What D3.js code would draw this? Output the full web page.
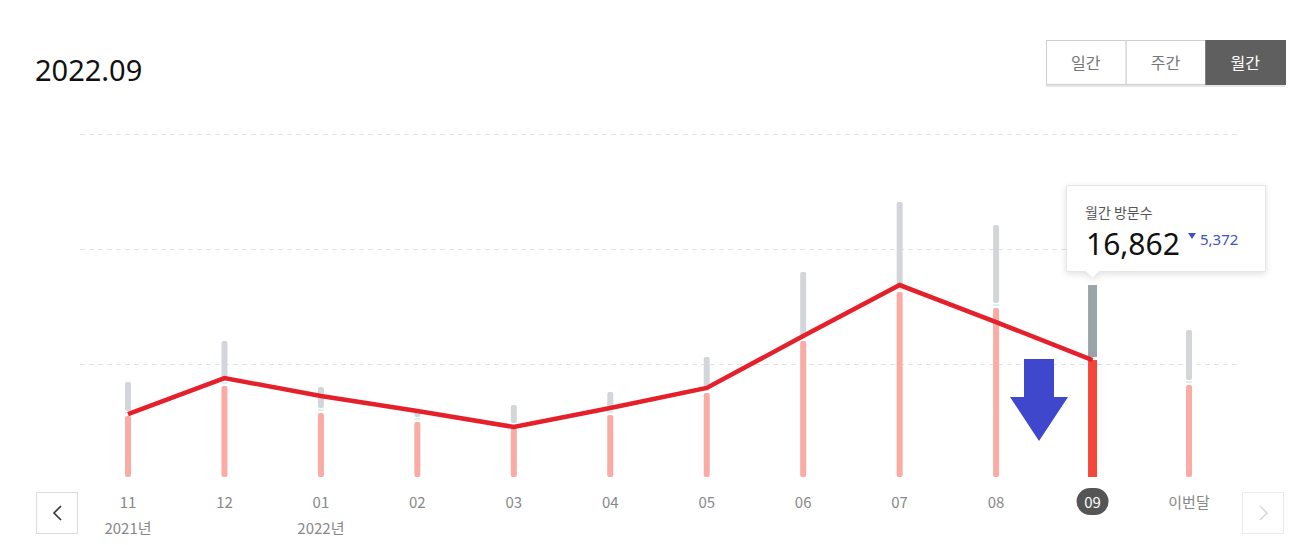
<!DOCTYPE html>
<html><head><meta charset="utf-8">
<script src="https://cdn.jsdelivr.net/npm/d3@7"></script>
<style>
html,body{margin:0;padding:0;background:#fff;}
svg{display:block;font-family:"Noto Sans CJK KR","Noto Sans",sans-serif;}
</style></head>
<body><svg id="c" width="1303" height="545"></svg>
<script>
const months = ["11","12","01","02","03","04","05","06","07","08","09","이번달"];
const yearLabels = [{m:"11", t:"2021년"}, {m:"01", t:"2022년"}];
const totalValues = [13750, 19550, 13040, 9920, 10490, 12330, 17290, 29330, 39250, 35990, 27490, 21110];
const partValues  = [8930, 13180, 9350, 8080, 7230, 9070, 12190, 19550, 26500, 24230, 16862, 13320];
const lineValues  = [9210, 14310, 11760, 9640, 7370, 10060, 12900, 20260, 27490, 22234, 16862];
const gridValues  = [16300, 32600, 48900];
const selected = "09";
const tipLabel = "월간 방문수", tipValue = 16862, tipDelta = 5372;
const tabs = ["일간","주간","월간"];
const activeTab = "월간";
const title = "2022.09";

const svg = d3.select("#c");
const x = d3.scalePoint().domain(months).range([128, 1189]);
const y = d3.scaleLinear().domain([0, 48900]).range([479, 134]);

// title
svg.append("text").attr("x",35).attr("y",81).attr("font-size",29).attr("fill","#111").attr("font-family","'Noto Sans','Open Sans',sans-serif").text(title);

// tabs
const tabX = d3.scaleBand().domain(tabs).range([1046,1285]);
svg.append("rect").attr("x",1046).attr("y",42).attr("width",239).attr("height",45).attr("fill","#e6e6e6");
tabs.forEach(t=>{
  const on = t===activeTab;
  svg.append("rect").attr("x",tabX(t)+0.5).attr("y",40.5).attr("width",tabX.bandwidth()).attr("height",44)
    .attr("fill",on?"#5f5f5f":"#fff").attr("stroke",on?"#5f5f5f":"#cfcfcf");
  svg.append("text").attr("x",tabX(t)+tabX.bandwidth()/2).attr("y",69).attr("text-anchor","middle")
    .attr("font-size",16).attr("fill",on?"#fff":"#777").text(t);
});

// grid
svg.selectAll(".grid").data(gridValues).enter().append("line")
  .attr("x1",80).attr("x2",1237).attr("y1",d=>Math.round(y(d))+0.5).attr("y2",d=>Math.round(y(d))+0.5)
  .attr("stroke","#e2e2e2").attr("stroke-dasharray","5,4");

// bars
const gap = 5;
months.forEach((m,i)=>{
  const sel = m===selected;
  const cx = x(m);
  const w = sel?9:6;
  const tTop = y(totalValues[i]);
  const pTop = y(partValues[i]);
  if(sel){
    svg.append("rect").attr("x",cx-w/2).attr("y",tTop).attr("width",w).attr("height",pTop-3-tTop).attr("fill","#9aa3ab");
    svg.append("rect").attr("x",cx-w/2).attr("y",pTop).attr("width",w).attr("height",y(0)-2-pTop).attr("fill","#f4473b");
  } else {
    svg.append("rect").attr("x",cx-w/2).attr("y",tTop).attr("width",w).attr("height",Math.max(2,pTop-gap-tTop)).attr("rx",2).attr("fill","#d2d6da");
    svg.append("line").attr("x1",cx-w/2).attr("x2",cx+w/2).attr("y1",pTop-gap+2).attr("y2",pTop-gap+2).attr("stroke","#b9e3dc").attr("stroke-width",1);
    svg.append("rect").attr("x",cx-w/2).attr("y",pTop).attr("width",w).attr("height",y(0)-2-pTop).attr("rx",2).attr("fill","#f9aba4");
  }
});

// line
const line = d3.line().x((d,i)=>x(months[i])).y(d=>y(d));
svg.append("path").datum(lineValues).attr("d",line).attr("fill","none").attr("stroke","#e5202a").attr("stroke-width",4.5).attr("stroke-linejoin","miter");

// blue arrow annotation
const ax = x(months[9]) + (x(months[10])-x(months[9]))*0.445;
svg.append("path").attr("d",`M${ax-15},359 L${ax+15},359 L${ax+15},397 L${ax+29},397 L${ax},441 L${ax-29},397 L${ax-15},397 Z`).attr("fill","#3f47cc");

// x labels
months.forEach(m=>{
  const sel = m===selected;
  if(sel){
    svg.append("rect").attr("x",x(m)-16).attr("y",488).attr("width",32).attr("height",27).attr("rx",13.5).attr("fill","#555");
  }
  svg.append("text").attr("x",x(m)).attr("y",508).attr("text-anchor","middle").attr("font-size",15)
    .attr("fill",sel?"#fff":"#888").text(m);
});
yearLabels.forEach(d=>{
  svg.append("text").attr("x",x(d.m)).attr("y",534).attr("text-anchor","middle").attr("font-size",15).attr("fill","#888").text(d.t);
});

// nav buttons
svg.append("rect").attr("x",36.5).attr("y",492.5).attr("width",41).attr("height",41).attr("fill","#fff").attr("stroke","#dcdcdc");
svg.append("path").attr("d","M61,506 L54,513 L61,520").attr("fill","none").attr("stroke","#333").attr("stroke-width",1.6);
svg.append("rect").attr("x",1242.5).attr("y",492.5).attr("width",41).attr("height",41).attr("fill","#fff").attr("stroke","#ebebeb");
svg.append("path").attr("d","M1260,506 L1267,513 L1260,520").attr("fill","none").attr("stroke","#d5d5d5").attr("stroke-width",1.4);

// tooltip
const defs = svg.append("defs");
const f = defs.append("filter").attr("id","sh").attr("x","-20%").attr("y","-30%").attr("width","140%").attr("height","170%");
f.append("feDropShadow").attr("dx",0).attr("dy",2).attr("stdDeviation",3).attr("flood-color","#000").attr("flood-opacity",0.12);
const tx = x(selected);
svg.append("path").attr("d",`M1066.5,185.5 H1265.5 V271.5 H${tx+7} L${tx},278 L${tx-7},271.5 H1066.5 Z`)
  .attr("fill","#fff").attr("stroke","#e6e6e6").attr("filter","url(#sh)");
svg.append("text").attr("x",1085).attr("y",218).attr("font-size",14).attr("fill","#555").text(tipLabel);
svg.append("text").attr("x",1086).attr("y",255).attr("font-size",30).attr("fill","#111").attr("font-family","'Noto Sans','Open Sans',sans-serif").text(d3.format(",")(tipValue));
svg.append("path").attr("d","M1188,233 L1196,233 L1192,239 Z").attr("fill","#3f51c4");
svg.append("text").attr("x",1200).attr("y",245).attr("font-size",15).attr("fill","#3f51c4").attr("font-family","'Noto Sans','Open Sans',sans-serif").text(d3.format(",")(tipDelta));
</script>
</body></html>
